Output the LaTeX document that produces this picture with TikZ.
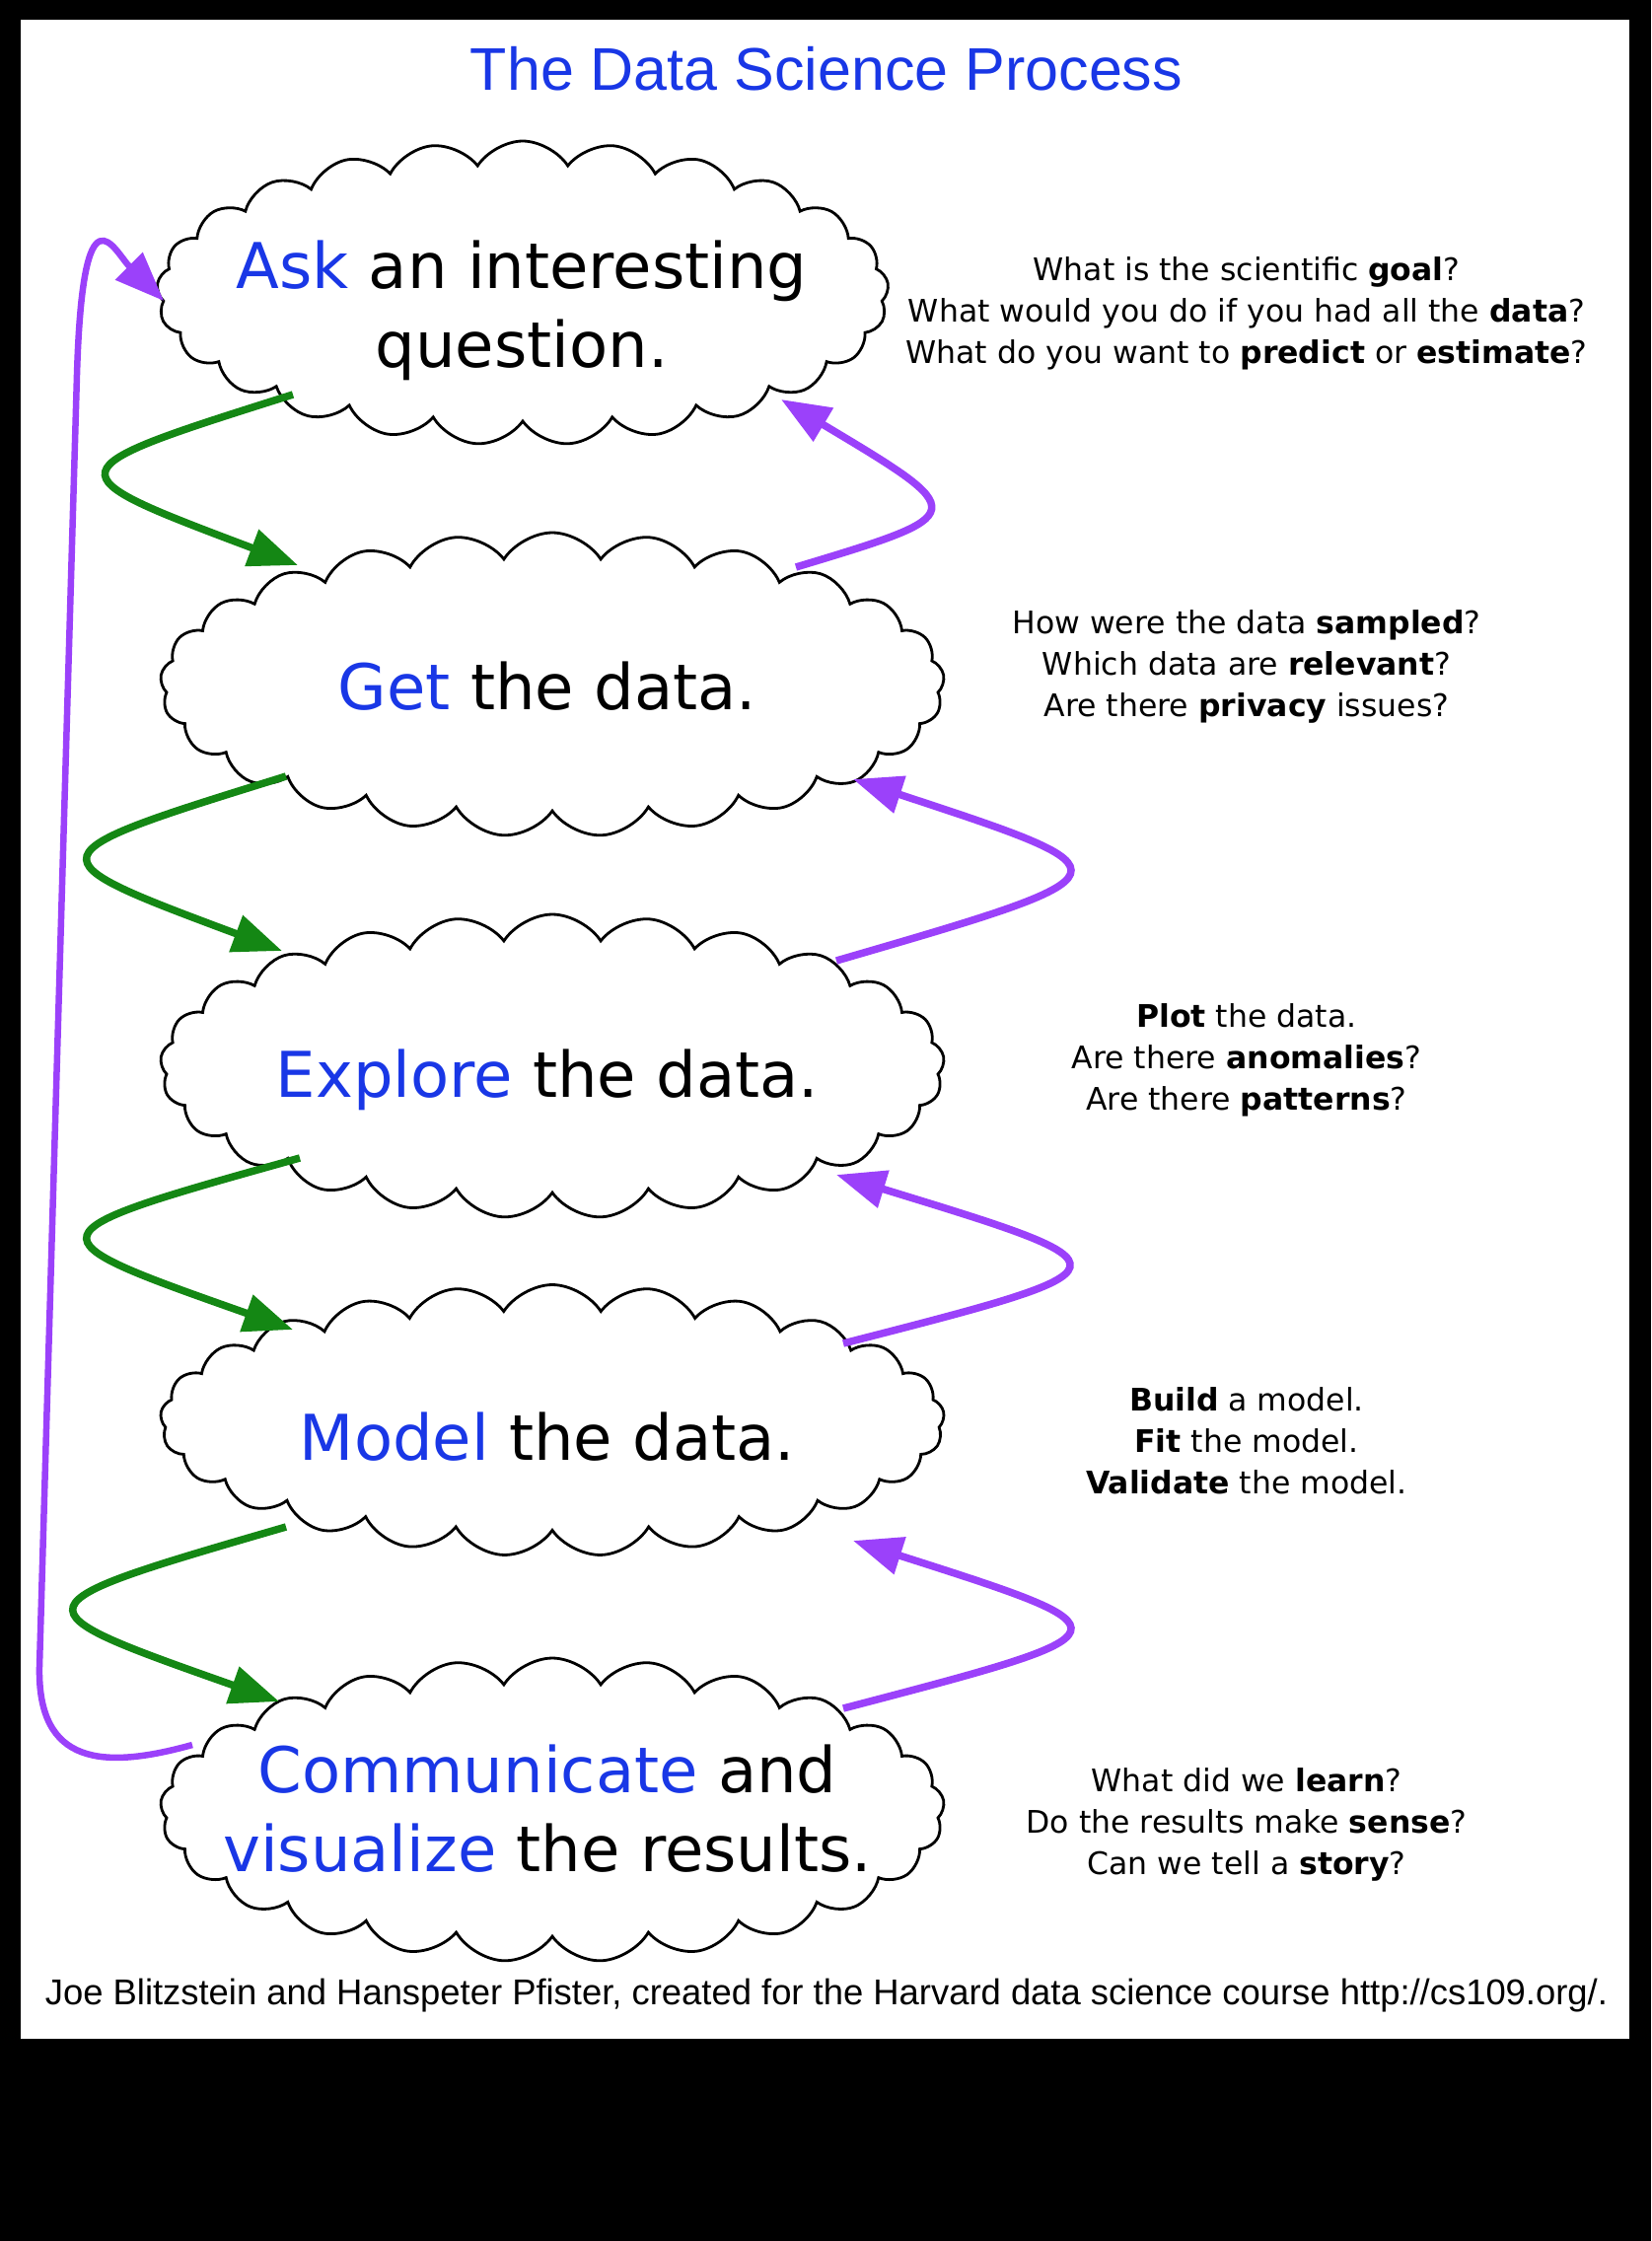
\documentclass[tikz,border=0pt]{standalone}
\usepackage{fontspec}
\setmainfont{DejaVu Sans}
\newfontfamily\titlefont{Liberation Sans}
\usetikzlibrary{shapes.symbols,arrows.meta,calc}
\definecolor{keyblue}{RGB}{25,55,230}
\definecolor{arrgreen}{RGB}{20,135,20}
\definecolor{arrpurple}{RGB}{155,65,250}
\begin{document}
\begin{tikzpicture}[x=1pt,y=-1pt,
  cloudbox/.style={cloud, cloud puffs=25, cloud puff arc=115, cloud ignores aspect,
    draw=black, line width=2.8pt, fill=white, inner sep=0pt,
    minimum width=795pt, minimum height=308pt},
  bigtext/.style={font=\fontsize{64}{80}\selectfont, align=center, inner sep=0pt},
  sidetext/.style={font=\fontsize{31.5}{42}\selectfont, align=center, inner sep=0pt},
  tip/.style={-{Triangle[length=50pt,width=38pt]}},
  fwd/.style={draw=arrgreen, line width=7.5pt, tip},
  back/.style={draw=arrpurple, line width=7.5pt, tip},
]
\fill[black] (0,0) rectangle (1674,2272);
\useasboundingbox (0,0) rectangle (1674,2272);
\fill[white] (21,20) rectangle (1652,2067);

\node[font=\titlefont\fontsize{61}{70}\selectfont, text=keyblue, inner sep=0pt] (title) at (838,70) {The Data Science Process};

\node[cloudbox, minimum width=742pt] (c1) at (530,297) {};
\node[cloudbox] (c2) at (560,694) {};
\node[cloudbox] (c3) at (560,1081) {};
\node[cloudbox, minimum height=275pt] (c4) at (560,1440) {};
\node[cloudbox] (c5) at (560,1835) {};

\node[bigtext] (t1) at (529,315) {\textcolor{keyblue}{Ask} an interesting\\question.};
\node[bigtext] (t2) at (555,696) {\textcolor{keyblue}{Get} the data.};
\node[bigtext] (t3) at (555,1095) {\textcolor{keyblue}{Explore} the data.};
\node[bigtext] (t4) at (555,1457) {\textcolor{keyblue}{Model} the data.};
\node[bigtext] (t5) at (555,1834) {\textcolor{keyblue}{Communicate} and\\\textcolor{keyblue}{visualize} the results.};

\node[sidetext] (s1) at (1264,318) {What is the scientific \textbf{goal}?\\What would you do if you had all the \textbf{data}?\\What do you want to \textbf{predict} or \textbf{estimate}?};
\node[sidetext] (s2) at (1264,676) {How were the data \textbf{sampled}?\\Which data are \textbf{relevant}?\\Are there \textbf{privacy} issues?};
\node[sidetext] (s3) at (1264,1075) {\textbf{Plot} the data.\\Are there \textbf{anomalies}?\\Are there \textbf{patterns}?};
\node[sidetext] (s4) at (1264,1461) {\textbf{Build} a model.\\\textbf{Fit} the model.\\\textbf{Validate} the model.};
\node[sidetext] (s5) at (1264,1850) {What did we \textbf{learn}?\\Do the results make \textbf{sense}?\\Can we tell a \textbf{story}?};

\node[font=\titlefont\fontsize{36.4}{40}\selectfont, inner sep=0pt] (foot) at (838,2023) {Joe Blitzstein and Hanspeter Pfister, created for the Harvard data science course http://cs109.org/.};

\draw[fwd] ($(c1)+(-233,103)$) .. controls +(-247,78) and +(-252,-95) .. ($(c2)+(-258,-121)$);
\draw[fwd] ($(c2)+(-270,93)$) .. controls +(-261,81) and +(-257,-96) .. ($(c3)+(-274,-117)$);
\draw[fwd] ($(c3)+(-256,93)$) .. controls +(-279,78) and +(-272,-96) .. ($(c4)+(-263,-92)$);
\draw[fwd] ($(c4)+(-270,108)$) .. controls +(-279,81) and +(-272,-96) .. ($(c5)+(-277,-110)$);

\draw[back] ($(c2)+(247,-119)$) .. controls +(179,-54) and +(194,116) .. ($(c1)+(262,108)$);
\draw[back] ($(c3)+(288,-107)$) .. controls +(306,-89) and +(289,95) .. ($(c2)+(305,96)$);
\draw[back] ($(c4)+(295,-78)$) .. controls +(300,-77) and +(307,94) .. ($(c3)+(288,110)$);
\draw[back] ($(c5)+(295,-103)$) .. controls +(298,-78) and +(288,92) .. ($(c4)+(305,122)$);

\coordinate (fbA) at (40,1690);
\coordinate (fbB) at (78,380);
\draw[back, line width=6.5pt] ($(c5)+(-365,-66)$) .. controls +(-90,25) and +(-2,100) .. (fbA) -- (fbB) .. controls +(6,-200) and +(-50,-50) .. ($(c1)+(-364,8)$);
\end{tikzpicture}
\end{document}
